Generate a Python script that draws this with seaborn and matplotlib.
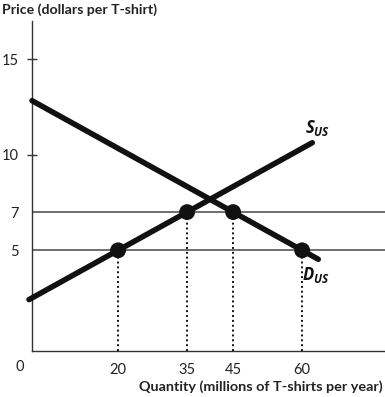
import matplotlib
matplotlib.use("Agg")
import matplotlib.pyplot as plt
import seaborn as sns
import pandas as pd

# ---- data ----
eq_quantity = [20, 35, 45, 60]          # dots / dotted guides
eq_price = [5, 7, 7, 5]
price_levels = [5, 7]                   # horizontal price lines
demand_q = [1.3, 45, 60, 63.5]
demand_p = [12.83, 7, 5, 4.53]
supply_q = [0.65, 20, 35, 62.2]
supply_p = [2.42, 5, 7, 10.63]
x_ticks = [20, 35, 45, 60]
x_ticklabels = ["20", "35", "45", "60"]
y_ticks = [5, 7, 10, 15]
y_ticklabels = ["5", "7", "10", "15"]

sns.set_style("white")
plt.rcParams["font.family"] = ["Lato", "DejaVu Sans"]
plt.rcParams["mathtext.fontset"] = "custom"
plt.rcParams["mathtext.it"] = "Open Sans:italic:bold"
plt.rcParams["mathtext.rm"] = "Open Sans:bold"

fig = plt.figure(figsize=(3.85, 3.97), dpi=100)
ax = fig.add_axes([32/385, 46/397, 353/385, 330/397])

ax.set_xlim(1.3, 78.0)
ax.set_ylim(-0.27, 17.0)

for p in price_levels:
    ax.axhline(p, color="#555555", lw=1.2, zorder=1)

ax.vlines(eq_quantity, -0.27, eq_price, colors="#111111", lw=1.4,
          linestyles=(0, (1, 1.5)), zorder=1)

demand = pd.DataFrame({"q": demand_q, "p": demand_p})
supply = pd.DataFrame({"q": supply_q, "p": supply_p})
sns.lineplot(data=demand, x="q", y="p", ax=ax, color="#111111", lw=4.0,
             sort=False, estimator=None, zorder=3, clip_on=False)
sns.lineplot(data=supply, x="q", y="p", ax=ax, color="#111111", lw=4.0,
             sort=False, estimator=None, zorder=3, clip_on=False)

pts = pd.DataFrame({"q": eq_quantity, "p": eq_price})
sns.scatterplot(data=pts, x="q", y="p", ax=ax, color="#111111", s=130,
                edgecolor="none", zorder=4)

ax.text(60.7, 11.4, r"$S_{US}$", fontsize=12, ha="left", va="center", color="#111111")
ax.text(59.9, 3.7, r"$D_{US}$", fontsize=12, ha="left", va="center", color="#111111")

sns.despine(ax=ax)
for s in ["left", "bottom"]:
    ax.spines[s].set_color("#333333")
    ax.spines[s].set_linewidth(1.0)

ax.set_xticks(x_ticks)
ax.set_xticklabels(x_ticklabels)
ax.set_yticks(y_ticks)
ax.set_yticklabels(y_ticklabels)
ax.tick_params(axis="x", length=0, pad=9, labelsize=10.5, labelcolor="#222222")
ax.tick_params(axis="y", direction="inout", length=7, width=1.0, color="#333333",
               pad=6, labelsize=10.5, labelcolor="#222222", left=True)
for i, t in enumerate(ax.yaxis.get_major_ticks()):
    if y_ticks[i] in price_levels:
        t.tick1line.set_visible(False)

ax.set_xlabel("")
ax.set_ylabel("")

fig.text(20/385, 1 - 367/397, "0", fontsize=10.5, ha="center", va="center", color="#222222")
fig.text(2/385, 1 - 10/397, "Price (dollars per T-shirt)", fontsize=10.2, fontweight="bold",
         ha="left", va="center", color="#222222")
fig.text(383/385, 1 - 387/397, "Quantity (millions of T-shirts per year)", fontsize=10.4,
         fontweight="bold", ha="right", va="center", color="#222222")

fig.savefig("out.png", dpi=100)
